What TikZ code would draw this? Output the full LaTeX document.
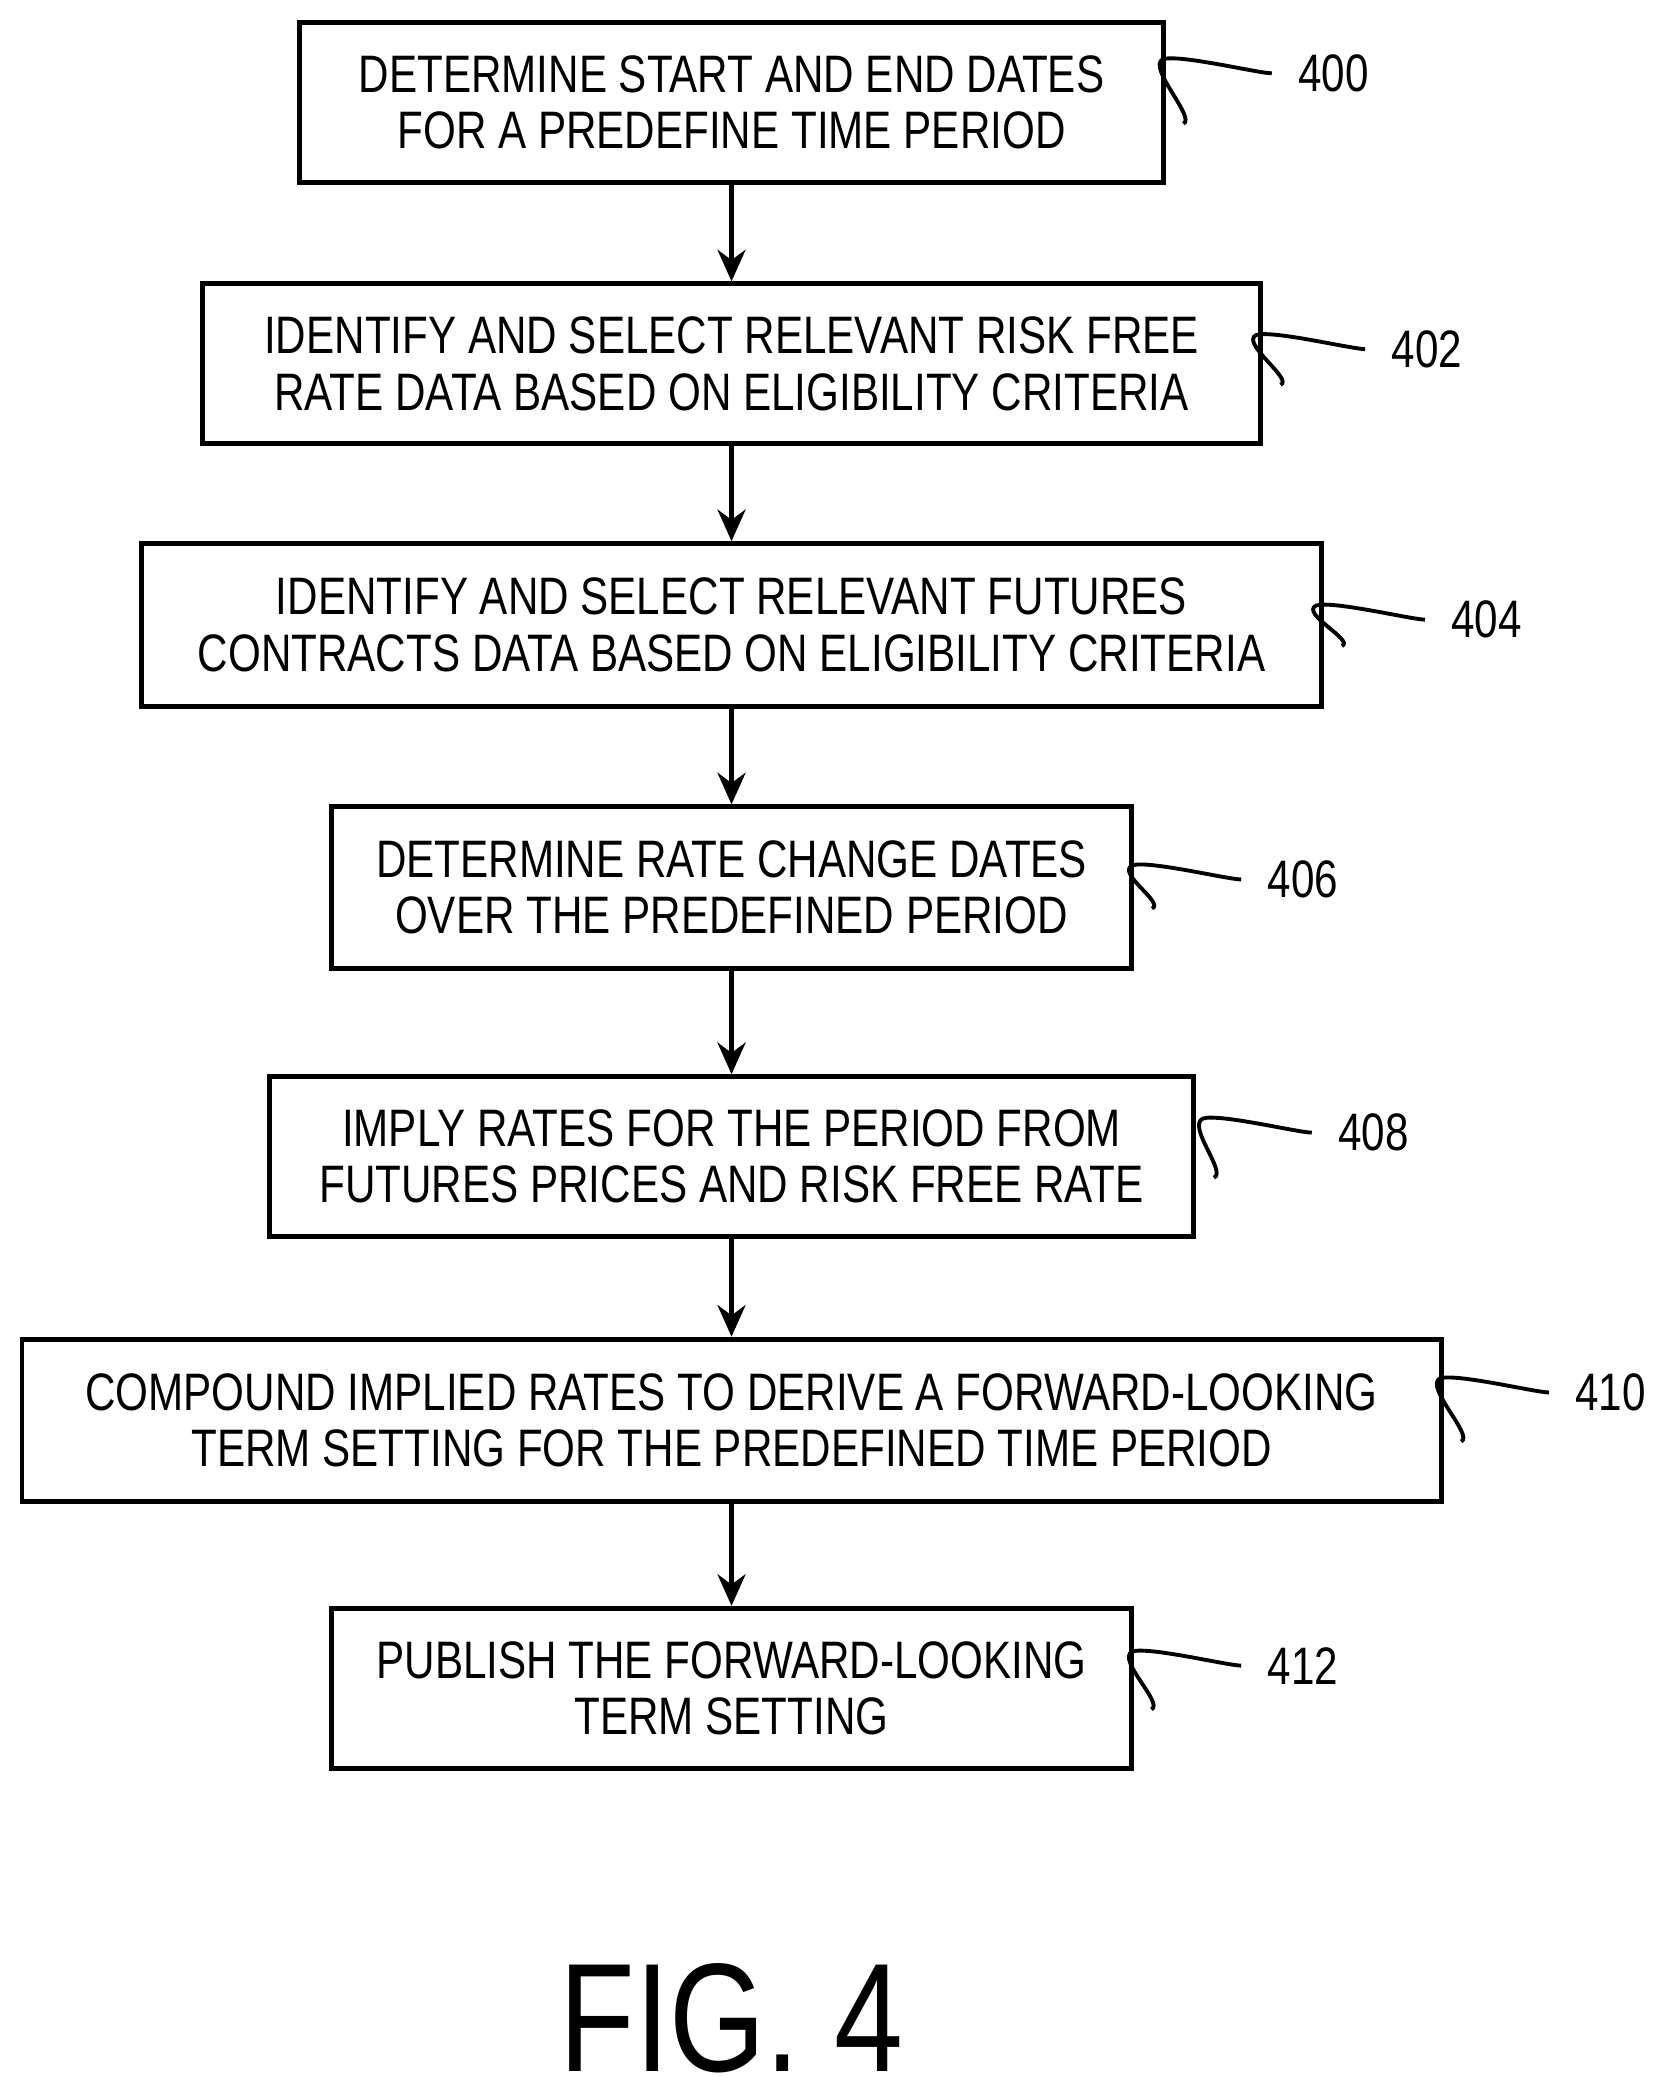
\documentclass[tikz,border=0pt]{standalone}
\usepackage{fontspec}
\setmainfont{Liberation Sans}[FakeStretch=0.8]
\usetikzlibrary{arrows.meta}
\begin{document}
\begin{tikzpicture}[x=0.01332cm, y=-0.01332cm,
    stepbox/.style = {draw, line width=1.4pt, align=center, inner sep=0pt,
        font=\fontsize{15}{16}\selectfont},
    flow/.style = {line width=1.2pt, -{Stealth[length=9pt,width=8pt]}},
    squig/.style = {line width=1.1pt},
    ref/.style = {font=\fontsize{15}{16}\selectfont, anchor=west}]
    \useasboundingbox (0,0) rectangle (1240,1558);
    % steps
    \node[stepbox, minimum width=648*0.01332cm, minimum height=120*0.01332cm] (s400) at (549,77) {DETERMINE START AND END DATES\\FOR A PREDEFINE TIME PERIOD};
    \node[stepbox, minimum width=794*0.01332cm, minimum height=120*0.01332cm] (s402) at (549,273) {IDENTIFY AND SELECT RELEVANT RISK FREE\\RATE DATA BASED ON ELIGIBILITY CRITERIA};
    \node[stepbox, minimum width=886*0.01332cm, minimum height=122*0.01332cm] (s404) at (549,469) {IDENTIFY AND SELECT RELEVANT FUTURES\\CONTRACTS DATA BASED ON ELIGIBILITY CRITERIA};
    \node[stepbox, minimum width=601*0.01332cm, minimum height=121*0.01332cm] (s406) at (549,666) {DETERMINE RATE CHANGE DATES\\OVER THE PREDEFINED PERIOD};
    \node[stepbox, minimum width=694*0.01332cm, minimum height=120*0.01332cm] (s408) at (549,868) {IMPLY RATES FOR THE PERIOD FROM\\FUTURES PRICES AND RISK FREE RATE};
    \node[stepbox, minimum width=1065*0.01332cm, minimum height=122*0.01332cm] (s410) at (549,1066) {COMPOUND IMPLIED RATES TO DERIVE A FORWARD-LOOKING\\TERM SETTING FOR THE PREDEFINED TIME PERIOD};
    \node[stepbox, minimum width=600*0.01332cm, minimum height=120*0.01332cm] (s412) at (549,1267) {PUBLISH THE FORWARD-LOOKING\\TERM SETTING};
    % arrows
    \foreach \a/\b in {s400/s402, s402/s404, s404/s406, s406/s408, s408/s410, s410/s412}
        \draw[flow] (\a) -- (\b);
    % reference numerals
    \foreach \s/\n/\x/\y in {s400/400/965/55, s402/402/1035/262, s404/404/1080/465, s406/406/942/660, s408/408/995/850, s410/410/1173/1045, s412/412/942/1250} {
        \node[ref] (r\n) at (\x,\y) {\n};
        \draw[squig] ([xshift=5pt,yshift=-6pt]\s.east) .. controls +(10,-4) and +(-12,6) .. ([xshift=-35,yshift=4]r\n.west)
            .. controls +(12,-4) and +(-10,0) .. ([xshift=-4]r\n.west);
    }
    \node[font=\fontsize{44}{46}\selectfont] (fig) at (549,1515) {FIG. 4};
\end{tikzpicture}
\end{document}
